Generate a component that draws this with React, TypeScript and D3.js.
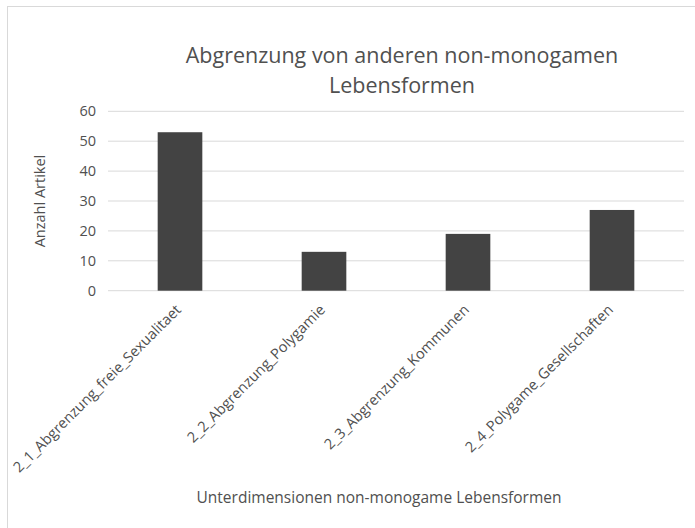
import React, { useEffect, useRef } from 'react';
import * as d3 from 'd3';

const categories = [
  '2_1_Abgrenzung_freie_Sexualitaet',
  '2_2_Abgrenzung_Polygamie',
  '2_3_Abgrenzung_Kommunen',
  '2_4_Polygame_Gesellschaften',
];
const counts = [53, 13, 19, 27];
const yTicks = [0, 10, 20, 30, 40, 50, 60];
const titleLines = ['Abgrenzung von anderen non-monogamen', 'Lebensformen'];
const yTitle = 'Anzahl Artikel';
const xTitle = 'Unterdimensionen non-monogame Lebensformen';

const FONT = '"Open Sans", "Noto Sans", sans-serif';
const TEXT = '#505050';

export default function App() {
  const ref = useRef<SVGSVGElement>(null);

  useEffect(() => {
    const svg = d3.select(ref.current);
    svg.selectAll('*').remove();

    const W = 695, H = 528;
    const left = 108, right = 684, top = 111.3, bottom = 290.7;

    // chart frame (only top and left edges visible in the crop)
    svg.append('rect')
      .attr('x', 7.5).attr('y', 6.5)
      .attr('width', W).attr('height', H)
      .attr('fill', '#fff').attr('stroke', '#d9d9d9');

    const x = d3.scaleBand<string>()
      .domain(categories)
      .range([left, right])
      .paddingInner(0.69)
      .paddingOuter(0.345);

    const y = d3.scaleLinear().domain([0, 60]).range([bottom, top]);

    // gridlines
    svg.append('g')
      .selectAll('line')
      .data(yTicks)
      .enter().append('line')
      .attr('x1', left).attr('x2', right)
      .attr('y1', d => y(d)).attr('y2', d => y(d))
      .attr('stroke', '#d9d9d9').attr('stroke-width', 1);

    // y tick labels
    svg.append('g')
      .selectAll('text')
      .data(yTicks)
      .enter().append('text')
      .attr('x', 96)
      .attr('y', d => y(d))
      .attr('dy', '0.35em')
      .attr('text-anchor', 'end')
      .attr('font-family', FONT).attr('font-size', 14.5)
      .attr('fill', TEXT)
      .text(d => d);

    // bars
    svg.append('g')
      .selectAll('rect')
      .data(counts)
      .enter().append('rect')
      .attr('x', (_, i) => x(categories[i])!)
      .attr('width', x.bandwidth())
      .attr('y', d => y(d))
      .attr('height', d => bottom - y(d))
      .attr('fill', '#434343');

    // x category labels, rotated
    svg.append('g')
      .selectAll('text')
      .data(categories)
      .enter().append('text')
      .attr('transform', d => `translate(${x(d)! + x.bandwidth() / 2 + 2},${bottom + 20}) rotate(-45)`)
      .attr('text-anchor', 'end')
      .attr('font-family', FONT).attr('font-size', 14.6)
      .attr('fill', TEXT)
      .text(d => d);

    // title
    svg.append('text')
      .attr('x', 402).attr('y', 63)
      .attr('text-anchor', 'middle')
      .attr('font-family', FONT).attr('font-size', 21.5)
      .attr('fill', TEXT)
      .selectAll('tspan')
      .data(titleLines)
      .enter().append('tspan')
      .attr('x', 402)
      .attr('dy', (_, i) => (i === 0 ? 0 : 30))
      .text(d => d);

    // axis titles
    svg.append('text')
      .attr('transform', `translate(45,${(top + bottom) / 2}) rotate(-90)`)
      .attr('text-anchor', 'middle')
      .attr('font-family', FONT).attr('font-size', 14.5)
      .attr('fill', TEXT)
      .text(yTitle);

    svg.append('text')
      .attr('x', 379).attr('y', 503)
      .attr('text-anchor', 'middle')
      .attr('font-family', FONT).attr('font-size', 15.5)
      .attr('fill', TEXT)
      .text(xTitle);
  }, []);

  return (
    <svg ref={ref} width={695} height={528}
      style={{ position: 'absolute', left: 0, top: 0, display: 'block' }} />
  );
}
